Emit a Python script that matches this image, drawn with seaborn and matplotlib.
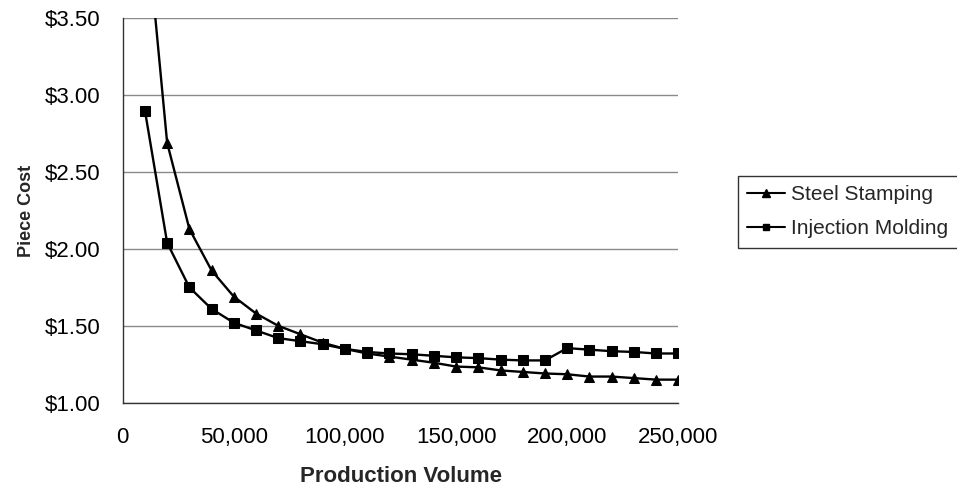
import matplotlib
matplotlib.use("Agg")
import matplotlib.pyplot as plt
import matplotlib.ticker as mticker
from matplotlib.lines import Line2D
import seaborn as sns
import pandas as pd

volume = [10000, 20000, 30000, 40000, 50000, 60000, 70000, 80000, 90000, 100000,
          110000, 120000, 130000, 140000, 150000, 160000, 170000, 180000, 190000, 200000,
          210000, 220000, 230000, 240000, 250000]
steel_stamping = [4.22, 2.69, 2.13, 1.86, 1.69, 1.58, 1.50, 1.445, 1.39, 1.35,
                  1.32, 1.30, 1.28, 1.26, 1.235, 1.23, 1.21, 1.20, 1.19, 1.185,
                  1.17, 1.17, 1.16, 1.15, 1.15]
injection_molding = [2.90, 2.04, 1.75, 1.61, 1.52, 1.47, 1.42, 1.40, 1.38, 1.35,
                     1.33, 1.32, 1.315, 1.305, 1.295, 1.29, 1.28, 1.275, 1.275, 1.355,
                     1.345, 1.335, 1.33, 1.32, 1.32]
series_names = ["Steel Stamping", "Injection Molding"]
y_ticks = [1.00, 1.50, 2.00, 2.50, 3.00, 3.50]
x_ticks = [0, 50000, 100000, 150000, 200000, 250000]

df = pd.concat([
    pd.DataFrame({"Production Volume": volume, "Piece Cost": steel_stamping, "Process": series_names[0]}),
    pd.DataFrame({"Production Volume": volume, "Piece Cost": injection_molding, "Process": series_names[1]}),
])

sns.set_style("white")
plt.rcParams["font.family"] = ["Liberation Sans", "DejaVu Sans"]

fig = plt.figure(figsize=(9.57, 4.86), dpi=100)
ax = fig.add_axes([122.7 / 957, 1 - 402.7 / 486, (678.3 - 122.7) / 957, (402.7 - 18.3) / 486])

sns.lineplot(data=df, x="Production Volume", y="Piece Cost", hue="Process", style="Process",
             palette={series_names[0]: "black", series_names[1]: "black"},
             markers={series_names[0]: "^", series_names[1]: "s"}, dashes=False,
             markersize=7, linewidth=1.7, markeredgecolor="black", ax=ax, legend=False)

ax.set_xlim(0, 250000)
ax.set_ylim(1.0, 3.5)
ax.set_xticks(x_ticks)
ax.set_yticks(y_ticks)
ax.xaxis.set_major_formatter(mticker.FuncFormatter(lambda v, p: f"{int(v):,}"))
ax.yaxis.set_major_formatter(mticker.FuncFormatter(lambda v, p: f"${v:.2f}"))
ax.grid(axis="y", color="#8a8a8a", linewidth=1.0)
ax.grid(axis="x", visible=False)
for s in ["top", "right"]:
    ax.spines[s].set_visible(False)
for s in ["left", "bottom"]:
    ax.spines[s].set_color("#333333")
    ax.spines[s].set_linewidth(1.0)
ax.tick_params(axis="both", which="major", direction="out", length=5, width=1,
               color="#333333", labelsize=16, labelcolor="black")
ax.tick_params(axis="y", pad=11)
ax.tick_params(axis="x", pad=12.5)
ax.set_xlabel("Production Volume", fontsize=16, fontweight="bold", labelpad=13)
ax.set_ylabel("Piece Cost", fontsize=13, fontweight="bold", labelpad=7)

handles = [Line2D([], [], color="black", marker="^", markersize=5.5, linewidth=1.5),
           Line2D([], [], color="black", marker="s", markersize=5, linewidth=1.5)]
leg = fig.legend(handles, series_names, loc="upper left", bbox_to_anchor=(738 / 957, 1 - 176 / 486),
                 frameon=True, fancybox=False, fontsize=15, handlelength=1.8, handletextpad=0.3,
                 borderpad=0.45, labelspacing=0.72, borderaxespad=0)
leg.get_frame().set_edgecolor("black")
leg.get_frame().set_linewidth(1.0)

fig.savefig("out.png", dpi=100)
